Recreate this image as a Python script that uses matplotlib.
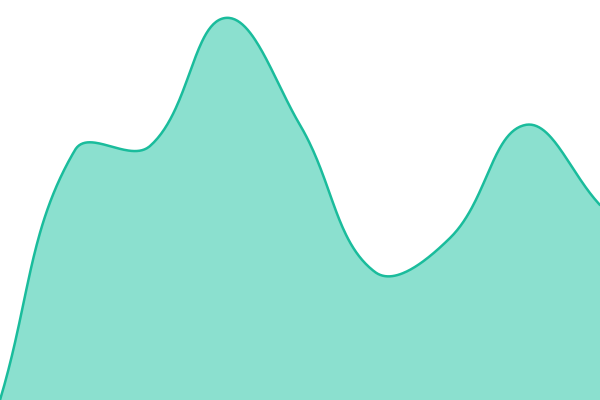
import numpy as np
import matplotlib.pyplot as plt

# ==========================
# DADOS
# ==========================

pontos_x = [0, 75, 150, 225, 300, 375, 450, 525, 600]
valores = [0, 250, 254, 382, 275, 128, 162, 275, 195]

tensao = 0.4


# ==========================
# CURVA SUAVE (bezier com tensao)
# ==========================

def controles(xs, ys, t):
    n = len(xs)
    c1 = []
    c2 = []
    for i in range(n):
        ant = i - 1 if i > 0 else i
        prox = i + 1 if i < n - 1 else i
        d01 = np.hypot(xs[i] - xs[ant], ys[i] - ys[ant])
        d12 = np.hypot(xs[prox] - xs[i], ys[prox] - ys[i])
        soma = d01 + d12
        s01 = d01 / soma if soma else 0
        s12 = d12 / soma if soma else 0
        dx = xs[prox] - xs[ant]
        dy = ys[prox] - ys[ant]
        c1.append((xs[i] - t * s01 * dx, ys[i] - t * s01 * dy))
        c2.append((xs[i] + t * s12 * dx, ys[i] + t * s12 * dy))
    return c1, c2


c1, c2 = controles(pontos_x, valores, tensao)

curva_x = []
curva_y = []
u = np.linspace(0, 1, 60)
for i in range(len(pontos_x) - 1):
    p0 = np.array([pontos_x[i], valores[i]])
    p1 = np.array(c2[i])
    p2 = np.array(c1[i + 1])
    p3 = np.array([pontos_x[i + 1], valores[i + 1]])
    seg = (
        ((1 - u) ** 3)[:, None] * p0
        + (3 * (1 - u) ** 2 * u)[:, None] * p1
        + (3 * (1 - u) * u ** 2)[:, None] * p2
        + (u ** 3)[:, None] * p3
    )
    curva_x.extend(seg[:, 0])
    curva_y.extend(seg[:, 1])

# ==========================
# GRAFICO
# ==========================

fig = plt.figure(figsize=(6, 4), dpi=100)
ax = fig.add_axes([0, 0, 1, 1])

ax.fill_between(curva_x, curva_y, 0, color="#8be0cf", linewidth=0)
ax.plot(curva_x, curva_y, color="#1abc9c", linewidth=1.8,
        solid_capstyle="round")

ax.set_xlim(0, 600)
ax.set_ylim(0, 400)
ax.axis("off")

plt.savefig("out.png", dpi=100)
